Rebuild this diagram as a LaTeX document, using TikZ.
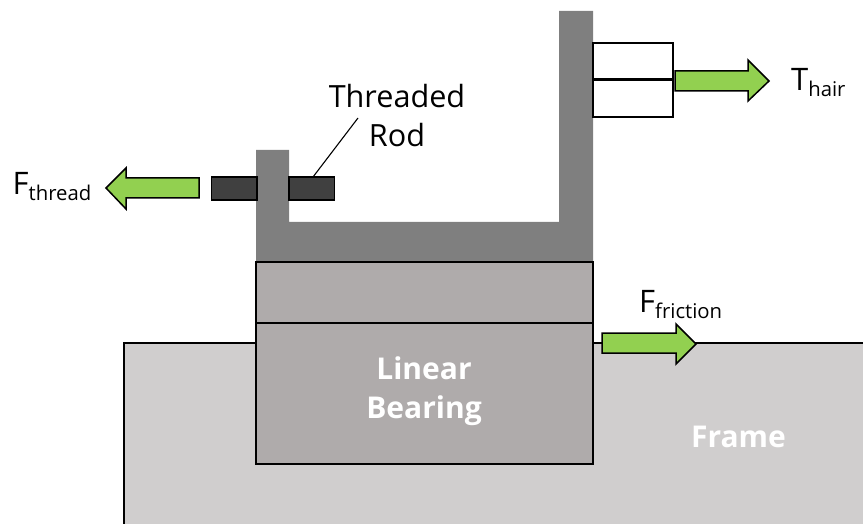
\documentclass[tikz,border=0pt]{standalone}
\usepackage{fontspec}
\setmainfont{Open Sans}
\definecolor{framegray}{HTML}{D0CECE}
\definecolor{beargray}{HTML}{AFABAB}
\definecolor{lgray}{HTML}{7F7F7F}
\definecolor{roddark}{HTML}{404040}
\definecolor{arrowgreen}{HTML}{92D050}
\newcommand{\lbl}[2]{{\fontsize{31}{34}\selectfont #1}{\fontsize{20.3}{24}\selectfont\raisebox{-6pt}{#2}}}
\tikzset{
  x=1pt,y=-1pt,
  part/.style={draw=black,line width=1.1pt},
  force/.style={draw=black,line width=1.5pt,fill=arrowgreen,line join=miter},
  txt/.style={inner sep=0pt,text=black,font=\fontsize{30.6}{39}\selectfont,align=center},
  boldtxt/.style={inner sep=0pt,text=white,font=\fontsize{30}{39}\selectfont\bfseries,align=center}
}
\begin{document}
\begin{tikzpicture}
\useasboundingbox (0,0) rectangle (863,524);
% frame
\fill[framegray] (124.5,343.5) rectangle (863,524);
\draw[part] (863,343) -- (124,343) -- (124,524);
% L bracket
\fill[lgray] (256,150) -- (289,150) -- (289,222) -- (559,222) -- (559,11) -- (593,11) -- (593,262) -- (256,262) -- cycle;
% bearing
\draw[part,fill=beargray] (256,262) rectangle (593,323);
\draw[part,fill=beargray] (256,323) rectangle (593,464);
% rod
\draw[part,fill=roddark] (211.5,177) rectangle (257,200);
\draw[part,fill=roddark] (289,177) rectangle (334.5,200);
% clamp
\draw[part,fill=white] (593,43) rectangle (673,79);
\draw[part,fill=white] (593,79) rectangle (673,117);
\draw[draw=black,line width=3pt] (593,79.5) -- (673,79.5);
% arrows
\draw[force] (199,178) -- (126,178) -- (126,168) -- (106,188) -- (126,209) -- (126,198) -- (199,198) -- cycle;
\draw[force] (675,71) -- (748,71) -- (748,60) -- (769,81) -- (748,101) -- (748,91) -- (675,91) -- cycle;
\draw[force] (602,333) -- (676,333) -- (676,324) -- (696,344) -- (676,364) -- (676,353) -- (602,353) -- cycle;
% labels
\node[txt] (rodlabel) at (397,116) {Threaded\\Rod};
\coordinate (leadstart) at (358,118);
\coordinate (leadend) at (313,177);
\draw[black,line width=1.1pt] (leadstart) -- (leadend);
\node[inner sep=0pt,anchor=base west] (fthread) at (12.5,195) {\lbl{F}{thread}};
\node[inner sep=0pt,anchor=base west] (thair) at (791,91) {\lbl{T}{hair}};
\node[inner sep=0pt,anchor=base west] (ffric) at (639,312) {\lbl{F}{friction}};
\node[boldtxt] (bearing) at (424,391) {Linear\\Bearing};
\node[boldtxt] (frame) at (738.5,437) {Frame};
\end{tikzpicture}
\end{document}
